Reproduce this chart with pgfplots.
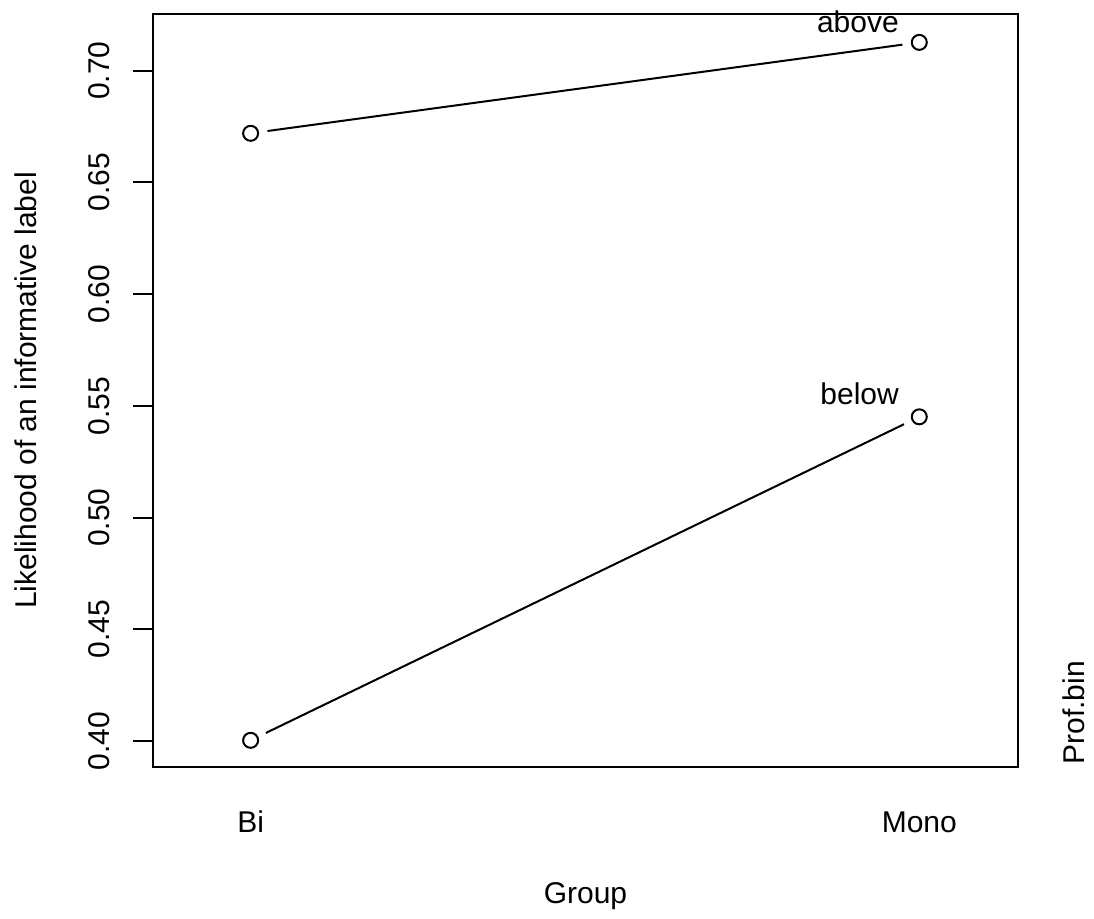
\documentclass[border=0pt]{standalone}
\usepackage{fontspec}
\setmainfont{Liberation Sans}
\usepackage{pgfplots}
\usepackage{pgfplotstable}
\pgfplotsset{compat=1.18}
\pgfplotstableread{
x y
0 0.6720
1 0.7127
}\above
\pgfplotstableread{
x y
0 0.4003
1 0.5451
}\below
\begin{document}
\fontsize{12}{14}\selectfont
\begin{tikzpicture}
\useasboundingbox (-61.2pt,-60.92pt) rectangle (376.4pt,306.68pt);
\begin{axis}[
  at={(0,0)}, anchor=south west,
  scale only axis, width=346pt, height=301.08pt,
  xmin=-0.146, xmax=1.1476, ymin=0.3885, ymax=0.7254,
  clip=false,
  xtick={0,1}, xticklabels={Bi,Mono},
  ytick={0.40,0.45,0.50,0.55,0.60,0.65,0.70},
  axis line style={line width=0.8pt},
  tick style={line width=0.8pt, black},
  tick align=outside, major tick length=8pt,
  ytick pos=left, xtick pos=bottom,
  x tick style={draw=none},
  yticklabel style={rotate=90, anchor=base, inner sep=0pt},
  yticklabel shift=9.2pt,
  xticklabel style={anchor=base, inner sep=0pt},
  xticklabel shift=18.4pt,
  /pgf/number format/.cd, fixed, fixed zerofill, precision=2, assume math mode=true,
  /pgfplots/.cd,
  xlabel={Group},
  xlabel style={at={([yshift=-54.6pt]axis description cs:0.5,0)}, anchor=base, inner sep=0pt},
  ylabel={Likelihood of an informative label},
  ylabel style={at={([xshift=-46.5pt]axis description cs:0,0.5)}, anchor=base, inner sep=0pt},
]
\addplot[black, line width=0.8pt, mark=none, shorten <=6.8pt, shorten >=6.8pt] table[x=x,y=y] {\above};
\addplot[black, only marks, mark=o, mark size=3pt, line width=0.8pt] table[x=x,y=y] {\above};
\addplot[black, line width=0.8pt, mark=none, shorten <=6.8pt, shorten >=6.8pt] table[x=x,y=y] {\below};
\addplot[black, only marks, mark=o, mark size=3pt, line width=0.8pt] table[x=x,y=y] {\below};
\node[anchor=base east, inner sep=0pt] at ([xshift=-8pt,yshift=4pt]axis cs:1,0.7127) {above};
\node[anchor=base east, inner sep=0pt] at ([xshift=-8pt,yshift=4.8pt]axis cs:1,0.5451) {below};
\end{axis}
\node[rotate=90, anchor=base west, inner sep=0pt] at (372.8pt,0.7pt) {Prof.bin};
\end{tikzpicture}
\end{document}
